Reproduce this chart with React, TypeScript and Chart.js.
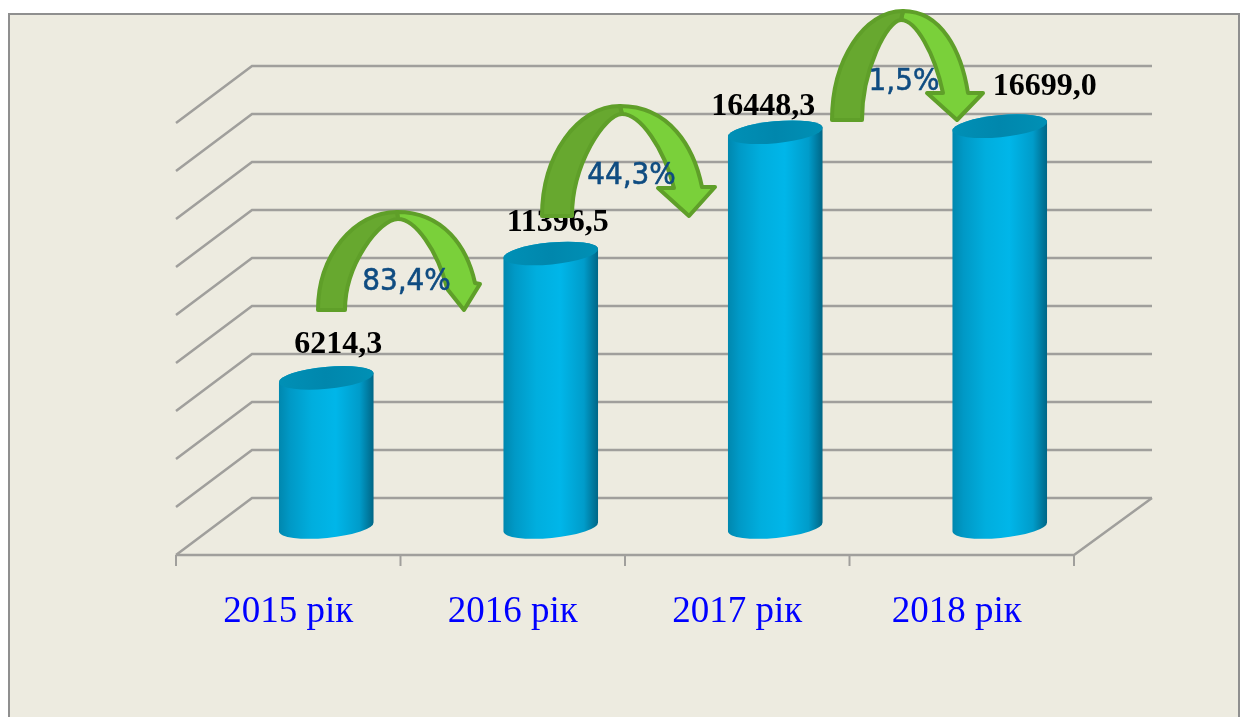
import React, { useEffect, useRef } from "react";
import { Chart, registerables } from "chart.js";

Chart.register(...registerables);

const categories = ["2015 рік", "2016 рік", "2017 рік", "2018 рік"];
const values = [6214.3, 11396.5, 16448.3, 16699.0];
const growthLabels = ["83,4%", "44,3%", "1,5%"];

const W = 1245;
const H = 717;
const DEPTH_X = 76;
const DEPTH_Y = 57;
const BACK_RIGHT = 1152;
const GRID = "#a09f9c";
const TICK_NUDGE = [0, 0, 0, -5];
const LABEL_NUDGE = [
  [12, -25],
  [7, -22],
  [-12, -17],
  [45, -31],
];
const ARROWS = [
  { x0: 318, w: 27, foot: 310, apex: 397, top: 212, inX: 398, inY: 219, so: [475, 283], wr: [480, 284], tip: [464, 310], wl: [448, 290], si: [447, 288], tx: 406.5, ty: 290 },
  { x0: 542, w: 30, foot: 216, apex: 620, top: 106, inX: 622, inY: 114, so: [702, 187], wr: [715, 187], tip: [689, 216], wl: [658, 188], si: [674, 188], tx: 631.5, ty: 184 },
  { x0: 832, w: 30, foot: 120, apex: 903, top: 11, inX: 901, inY: 20, so: [968, 93], wr: [983, 93], tip: [957, 120], wl: [927, 93], si: [943, 93], tx: 904, ty: 90 },
];

function drawArrow(ctx: CanvasRenderingContext2D, a: (typeof ARROWS)[number]) {
  const shape = (fill: string, path: () => void) => {
    ctx.beginPath();
    path();
    ctx.closePath();
    ctx.fillStyle = fill;
    ctx.fill();
    ctx.lineJoin = "round";
    ctx.lineWidth = 4;
    ctx.strokeStyle = "#5f9f29";
    ctx.stroke();
  };
  const oh = a.foot - a.top;
  const dxo = a.so[0] - a.apex;
  const dyo = a.so[1] - a.top;
  const dxi = a.si[0] - a.inX;
  const dyi = a.si[1] - a.inY;
  shape("#7ad03a", () => {
    ctx.moveTo(a.apex, a.top);
    ctx.bezierCurveTo(a.apex + 0.6 * dxo, a.top, a.so[0] - 0.1 * dxo, a.top + 0.5 * dyo, a.so[0], a.so[1]);
    ctx.lineTo(a.wr[0], a.wr[1]);
    ctx.lineTo(a.tip[0], a.tip[1]);
    ctx.lineTo(a.wl[0], a.wl[1]);
    ctx.lineTo(a.si[0], a.si[1]);
    ctx.bezierCurveTo(a.si[0] - 0.2 * dxi, a.inY + 0.45 * dyi, a.inX + 0.35 * dxi, a.inY, a.inX, a.inY);
  });
  const wo = a.apex - a.x0;
  const ix = a.x0 + a.w;
  const wi = a.inX - ix;
  const ih = a.foot - a.inY;
  shape("#67a82f", () => {
    ctx.moveTo(a.x0, a.foot);
    ctx.bezierCurveTo(a.x0, a.foot - 0.55 * oh, a.apex - 0.55 * wo, a.top, a.apex, a.top);
    ctx.lineTo(a.inX, a.inY);
    ctx.bezierCurveTo(a.inX - 0.35 * wi, a.inY, ix, a.foot - 0.5 * ih, ix, a.foot);
  });
}

const stagePlugin = {
  id: "stage",
  beforeDraw(chart: any) {
    const { ctx, scales } = chart;
    const x = scales.x;
    const y = scales.y;
    ctx.save();
    ctx.fillStyle = "#ffffff";
    ctx.fillRect(0, 0, W, H);
    ctx.fillStyle = "#edebe0";
    ctx.fillRect(9, 14, 1230, H);
    ctx.strokeStyle = "#8f8f8f";
    ctx.lineWidth = 2;
    ctx.beginPath();
    ctx.moveTo(9, H);
    ctx.lineTo(9, 14);
    ctx.lineTo(1239, 14);
    ctx.lineTo(1239, H);
    ctx.stroke();

    const left = x.left;
    const right = x.right;
    const backLeft = left + DEPTH_X;
    ctx.strokeStyle = GRID;
    ctx.lineWidth = 2.5;
    y.ticks.forEach((t: any) => {
      const py = y.getPixelForValue(t.value);
      ctx.beginPath();
      ctx.moveTo(left, py + DEPTH_Y);
      ctx.lineTo(backLeft, py);
      ctx.lineTo(BACK_RIGHT, py);
      ctx.stroke();
    });
    const floor = y.getPixelForValue(0);
    ctx.beginPath();
    ctx.moveTo(left, floor + DEPTH_Y);
    ctx.lineTo(right, floor + DEPTH_Y);
    ctx.lineTo(BACK_RIGHT, floor);
    ctx.stroke();
    ctx.lineWidth = 2;
    for (let i = 0; i <= categories.length; i++) {
      const px = left + ((right - left) * i) / categories.length;
      ctx.beginPath();
      ctx.moveTo(px, floor + DEPTH_Y);
      ctx.lineTo(px, floor + DEPTH_Y + 11);
      ctx.stroke();
    }
    ctx.restore();

    const items = x.getLabelItems();
    items.forEach((it: any, i: number) => {
      if (!it.__n) {
        it.options.translation[0] += TICK_NUDGE[i] || 0;
        it.__n = true;
      }
    });
  },
  afterDatasetsDraw(chart: any) {
    const { ctx } = chart;
    const meta = chart.getDatasetMeta(0);
    const rx = 47.5;
    const ry = 11;
    const rot = (-5.5 * Math.PI) / 180;
    ctx.save();
    meta.data.forEach((bar: any) => {
      const cx = bar.x + DEPTH_X / 2;
      const topY = bar.y + 29;
      const botY = bar.base + 29;
      const g = ctx.createLinearGradient(cx - rx, 0, cx + rx, 0);
      g.addColorStop(0, "#0087ae");
      g.addColorStop(0.12, "#0099c6");
      g.addColorStop(0.35, "#00aede");
      g.addColorStop(0.6, "#00b6e9");
      g.addColorStop(0.85, "#009cca");
      g.addColorStop(1, "#006585");
      ctx.beginPath();
      ctx.ellipse(cx, botY, rx, ry, rot, 0, Math.PI, false);
      ctx.ellipse(cx, topY, rx, ry, rot, Math.PI, 2 * Math.PI, false);
      ctx.closePath();
      ctx.fillStyle = g;
      ctx.fill();
      const t = ctx.createLinearGradient(cx - rx, 0, cx + rx, 0);
      t.addColorStop(0, "#0090b6");
      t.addColorStop(0.5, "#0087ad");
      t.addColorStop(1, "#0090b5");
      ctx.beginPath();
      ctx.ellipse(cx, topY, rx, ry, rot, 0, 2 * Math.PI);
      ctx.fillStyle = t;
      ctx.fill();
    });

    ctx.fillStyle = "#000000";
    ctx.font = 'bold 32px "Liberation Serif"';
    ctx.textAlign = "center";
    ctx.textBaseline = "alphabetic";
    meta.data.forEach((bar: any, i: number) => {
      const text = values[i].toFixed(1).replace(".", ",");
      ctx.fillText(text, bar.x + DEPTH_X / 2 + LABEL_NUDGE[i][0], bar.y + 29 + LABEL_NUDGE[i][1]);
    });

    ARROWS.forEach((a) => drawArrow(ctx, a));
    ctx.fillStyle = "#0f4c81";
    ctx.strokeStyle = "#0f4c81";
    ctx.lineWidth = 0.6;
    ctx.font = '31px "DejaVu Sans"';
    ARROWS.forEach((a, i) => {
      const mw = ctx.measureText(growthLabels[i]).width * 0.9;
      ctx.fillText(growthLabels[i], a.tx, a.ty, mw);
      ctx.strokeText(growthLabels[i], a.tx, a.ty, mw);
    });
    ctx.restore();
  },
};

export default function App() {
  const ref = useRef<HTMLCanvasElement | null>(null);
  useEffect(() => {
    if (!ref.current) return;
    const chart = new Chart(ref.current, {
      type: "bar",
      data: {
        labels: categories,
        datasets: [
          {
            data: values,
            backgroundColor: "rgba(0,0,0,0)",
            borderWidth: 0,
            barThickness: 95,
          },
        ],
      },
      options: {
        animation: false,
        responsive: false,
        layout: { padding: { left: 176, right: W - 1074, top: 66, bottom: 0 } },
        plugins: { legend: { display: false }, tooltip: { enabled: false }, title: { display: false } },
        scales: {
          x: {
            grid: { display: false, drawTicks: false },
            border: { display: false },
            afterFit: (s: any) => {
              s.height = H - 498;
            },
            ticks: {
              color: "#0000ff",
              padding: 92,
              font: { family: '"Liberation Serif"', size: 37 },
              maxRotation: 0,
              autoSkip: false,
            },
          },
          y: {
            min: 0,
            max: 18000,
            grid: { display: false, drawTicks: false },
            border: { display: false },
            afterFit: (s: any) => {
              s.width = 0;
            },
            ticks: { stepSize: 2000, display: false },
          },
        },
      },
      plugins: [stagePlugin],
    } as any);
    return () => chart.destroy();
  }, []);
  return (
    <div style={{ position: "fixed", left: 0, top: 0, width: W, height: H, overflow: "hidden" }}>
      <canvas ref={ref} width={W} height={H} style={{ display: "block", filter: "blur(0.5px)" }} />
    </div>
  );
}
